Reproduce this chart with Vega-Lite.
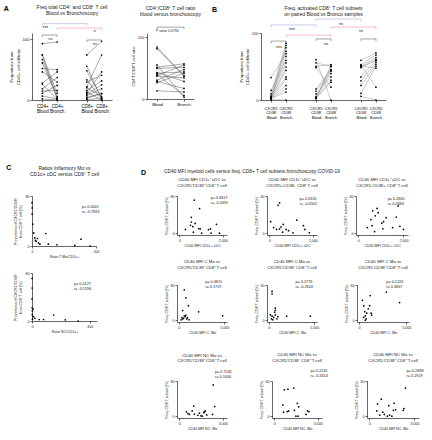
{
"$schema": "https://vega.github.io/schema/vega-lite/v6.json",
"padding": {"left": 3, "top": 5, "right": 0, "bottom": 0},
"background": "white",
"config": {
 "font": "Liberation Sans",
 "view": {"stroke": null},
 "axis": {"grid": false, "domainColor": "#000", "domainWidth": 0.6, "tickColor": "#000", "tickWidth": 0.6, "tickSize": 2, "labelFontSize": 3.6, "titleFontSize": 3.6, "titleFontWeight": "normal", "labelPadding": 1, "titlePadding": 2, "labelColor": "#222", "titleColor": "#222", "labelFlush": false, "labelOverlap": false},
 "title": {"fontSize": 5, "fontWeight": "normal", "color": "#222", "offset": 3, "lineHeight": 6},
 "text": {"color": "#222"}
},
"datasets": {
 "a1": [
  {"id":"4a","g":"CD4+ Blood","v":72},{"id":"4a","g":"CD4+ Bronch.","v":82},
  {"id":"4b","g":"CD4+ Blood","v":4.3},{"id":"4b","g":"CD4+ Bronch.","v":0.1},
  {"id":"4c","g":"CD4+ Blood","v":4.0},{"id":"4c","g":"CD4+ Bronch.","v":0.6},
  {"id":"4d","g":"CD4+ Blood","v":3.6},{"id":"4d","g":"CD4+ Bronch.","v":0.3},
  {"id":"4e","g":"CD4+ Blood","v":3.3},{"id":"4e","g":"CD4+ Bronch.","v":0.2},
  {"id":"4f","g":"CD4+ Blood","v":2.8},{"id":"4f","g":"CD4+ Bronch.","v":2.7},
  {"id":"4g","g":"CD4+ Blood","v":2.5},{"id":"4g","g":"CD4+ Bronch.","v":1.6},
  {"id":"4h","g":"CD4+ Blood","v":1.5},{"id":"4h","g":"CD4+ Bronch.","v":2.5},
  {"id":"4i","g":"CD4+ Blood","v":1.4},{"id":"4i","g":"CD4+ Bronch.","v":0.05},
  {"id":"4j","g":"CD4+ Blood","v":1.0},{"id":"4j","g":"CD4+ Bronch.","v":2.0},
  {"id":"4k","g":"CD4+ Blood","v":0.8},{"id":"4k","g":"CD4+ Bronch.","v":0.85},
  {"id":"4l","g":"CD4+ Blood","v":0.6},{"id":"4l","g":"CD4+ Bronch.","v":1.3},
  {"id":"4m","g":"CD4+ Blood","v":0.35},{"id":"4m","g":"CD4+ Bronch.","v":0.1},
  {"id":"4n","g":"CD4+ Blood","v":0.1},{"id":"4n","g":"CD4+ Bronch.","v":0.0},
  {"id":"8a","g":"CD8+ Blood","v":4.45},{"id":"8a","g":"CD8+ Bronch.","v":86},
  {"id":"8b","g":"CD8+ Blood","v":3.0},{"id":"8b","g":"CD8+ Bronch.","v":0.1},
  {"id":"8c","g":"CD8+ Blood","v":2.6},{"id":"8c","g":"CD8+ Bronch.","v":0.2},
  {"id":"8d","g":"CD8+ Blood","v":1.8},{"id":"8d","g":"CD8+ Bronch.","v":0.05},
  {"id":"8e","g":"CD8+ Blood","v":1.6},{"id":"8e","g":"CD8+ Bronch.","v":2.2},
  {"id":"8f","g":"CD8+ Blood","v":1.2},{"id":"8f","g":"CD8+ Bronch.","v":4.0},
  {"id":"8g","g":"CD8+ Blood","v":1.1},{"id":"8g","g":"CD8+ Bronch.","v":0.33},
  {"id":"8h","g":"CD8+ Blood","v":0.85},{"id":"8h","g":"CD8+ Bronch.","v":1.7},
  {"id":"8i","g":"CD8+ Blood","v":0.7},{"id":"8i","g":"CD8+ Bronch.","v":0.0},
  {"id":"8j","g":"CD8+ Blood","v":0.6},{"id":"8j","g":"CD8+ Bronch.","v":2.5},
  {"id":"8k","g":"CD8+ Blood","v":0.5},{"id":"8k","g":"CD8+ Bronch.","v":1.35},
  {"id":"8l","g":"CD8+ Blood","v":0.4},{"id":"8l","g":"CD8+ Bronch.","v":1.0},
  {"id":"8m","g":"CD8+ Blood","v":0.25},{"id":"8m","g":"CD8+ Bronch.","v":0.55},
  {"id":"8n","g":"CD8+ Blood","v":0.15},{"id":"8n","g":"CD8+ Bronch.","v":0.6},
  {"id":"8o","g":"CD8+ Blood","v":0.05},{"id":"8o","g":"CD8+ Bronch.","v":0.15}
 ],
 "a1br": [
  {"id":"b1","k":"blood","g":"CD4+ Blood","v":180,"o":1},{"id":"b1","k":"blood","g":"CD4+ Blood","v":192,"o":2},{"id":"b1","k":"blood","g":"CD8+ Blood","v":192,"o":3},{"id":"b1","k":"blood","g":"CD8+ Blood","v":180,"o":4},
  {"id":"b2","k":"bronch","g":"CD4+ Bronch.","v":154,"o":1},{"id":"b2","k":"bronch","g":"CD4+ Bronch.","v":166,"o":2},{"id":"b2","k":"bronch","g":"CD8+ Bronch.","v":166,"o":3},{"id":"b2","k":"bronch","g":"CD8+ Bronch.","v":154,"o":4},
  {"id":"b3","k":"ns","g":"CD4+ Blood","v":112,"o":1},{"id":"b3","k":"ns","g":"CD4+ Blood","v":124,"o":2},{"id":"b3","k":"ns","g":"CD4+ Bronch.","v":124,"o":3},{"id":"b3","k":"ns","g":"CD4+ Bronch.","v":112,"o":4},
  {"id":"b4","k":"ns","g":"CD8+ Blood","v":82,"o":1},{"id":"b4","k":"ns","g":"CD8+ Blood","v":94,"o":2},{"id":"b4","k":"ns","g":"CD8+ Bronch.","v":94,"o":3},{"id":"b4","k":"ns","g":"CD8+ Bronch.","v":82,"o":4}
 ],
 "a2": [
  {"id":"a","g":"Blood","v":36},{"id":"a","g":"Bronch.","v":2.0},
  {"id":"b","g":"Blood","v":25},{"id":"b","g":"Bronch.","v":1.95},
  {"id":"c","g":"Blood","v":2.9},{"id":"c","g":"Bronch.","v":0.15},
  {"id":"d","g":"Blood","v":2.7},{"id":"d","g":"Bronch.","v":3.0},
  {"id":"e","g":"Blood","v":2.6},{"id":"e","g":"Bronch.","v":2.7},
  {"id":"f","g":"Blood","v":2.2},{"id":"f","g":"Bronch.","v":2.3},
  {"id":"g","g":"Blood","v":2.1},{"id":"g","g":"Bronch.","v":0.3},
  {"id":"h","g":"Blood","v":2.0},{"id":"h","g":"Bronch.","v":2.9},
  {"id":"i","g":"Blood","v":1.95},{"id":"i","g":"Bronch.","v":1.8},
  {"id":"j","g":"Blood","v":1.5},{"id":"j","g":"Bronch.","v":0.9},
  {"id":"k","g":"Blood","v":1.4},{"id":"k","g":"Bronch.","v":2.2},
  {"id":"l","g":"Blood","v":0.7},{"id":"l","g":"Bronch.","v":0.6},
  {"id":"m","g":"Blood","v":2.25},{"id":"m","g":"Bronch.","v":1.5},
  {"id":"n","g":"Blood","v":1.6},{"id":"n","g":"Bronch.","v":2.5}
 ],
 "a2br": [
  {"id":"b1","k":"ns","g":"Blood","v":151,"o":1},{"id":"b1","k":"ns","g":"Blood","v":164,"o":2},{"id":"b1","k":"ns","g":"Bronch.","v":164,"o":3},{"id":"b1","k":"ns","g":"Bronch.","v":151,"o":4}
 ],
 "b": [
  {"id":"1a","g":"CXCR5⁻|CD38⁺|Blood","v":6.8},{"id":"1a","g":"CXCR5⁻|CD38⁺|Bronch.","v":41},
  {"id":"1b","g":"CXCR5⁻|CD38⁺|Blood","v":2.9},{"id":"1b","g":"CXCR5⁻|CD38⁺|Bronch.","v":22},
  {"id":"1c","g":"CXCR5⁻|CD38⁺|Blood","v":1.85},{"id":"1c","g":"CXCR5⁻|CD38⁺|Bronch.","v":71},
  {"id":"1d","g":"CXCR5⁻|CD38⁺|Blood","v":1.2},{"id":"1d","g":"CXCR5⁻|CD38⁺|Bronch.","v":16.7},
  {"id":"1e","g":"CXCR5⁻|CD38⁺|Blood","v":1.0},{"id":"1e","g":"CXCR5⁻|CD38⁺|Bronch.","v":58},
  {"id":"1f","g":"CXCR5⁻|CD38⁺|Blood","v":0.8},{"id":"1f","g":"CXCR5⁻|CD38⁺|Bronch.","v":9},
  {"id":"1g","g":"CXCR5⁻|CD38⁺|Blood","v":0.6},{"id":"1g","g":"CXCR5⁻|CD38⁺|Bronch.","v":48},
  {"id":"1h","g":"CXCR5⁻|CD38⁺|Blood","v":0.5},{"id":"1h","g":"CXCR5⁻|CD38⁺|Bronch.","v":33},
  {"id":"1i","g":"CXCR5⁻|CD38⁺|Blood","v":0.4},{"id":"1i","g":"CXCR5⁻|CD38⁺|Bronch.","v":65},
  {"id":"1j","g":"CXCR5⁻|CD38⁺|Blood","v":0.3},{"id":"1j","g":"CXCR5⁻|CD38⁺|Bronch.","v":10},
  {"id":"1k","g":"CXCR5⁻|CD38⁺|Blood","v":0.2},{"id":"1k","g":"CXCR5⁻|CD38⁺|Bronch.","v":6.3},
  {"id":"1l","g":"CXCR5⁻|CD38⁺|Blood","v":0.1},{"id":"1l","g":"CXCR5⁻|CD38⁺|Bronch.","v":0},
  {"id":"1m","g":"CXCR5⁻|CD38⁺|Blood","v":0.7},{"id":"1m","g":"CXCR5⁻|CD38⁺|Bronch.","v":4.4},
  {"id":"1n","g":"CXCR5⁻|CD38⁺|Blood","v":0.9},{"id":"1n","g":"CXCR5⁻|CD38⁺|Bronch.","v":7},
  {"id":"1o","g":"CXCR5⁻|CD38⁺|Blood","v":0.3},{"id":"1o","g":"CXCR5⁻|CD38⁺|Bronch.","v":3.4},
  {"id":"1p","g":"CXCR5⁻|CD38⁺|Blood","v":0.5},{"id":"1p","g":"CXCR5⁻|CD38⁺|Bronch.","v":2.4},
  {"id":"2a","g":"CXCR5⁺|CD38⁻|Blood","v":23.7},{"id":"2a","g":"CXCR5⁺|CD38⁻|Bronch.","v":0},
  {"id":"2b","g":"CXCR5⁺|CD38⁻|Blood","v":17},{"id":"2b","g":"CXCR5⁺|CD38⁻|Bronch.","v":11},
  {"id":"2c","g":"CXCR5⁺|CD38⁻|Blood","v":11},{"id":"2c","g":"CXCR5⁺|CD38⁻|Bronch.","v":14},
  {"id":"2d","g":"CXCR5⁺|CD38⁻|Blood","v":9.8},{"id":"2d","g":"CXCR5⁺|CD38⁻|Bronch.","v":3.9},
  {"id":"2e","g":"CXCR5⁺|CD38⁻|Blood","v":3.4},{"id":"2e","g":"CXCR5⁺|CD38⁻|Bronch.","v":9.2},
  {"id":"2f","g":"CXCR5⁺|CD38⁻|Blood","v":2.7},{"id":"2f","g":"CXCR5⁺|CD38⁻|Bronch.","v":8.7},
  {"id":"2g","g":"CXCR5⁺|CD38⁻|Blood","v":1.85},{"id":"2g","g":"CXCR5⁺|CD38⁻|Bronch.","v":7},
  {"id":"2h","g":"CXCR5⁺|CD38⁻|Blood","v":0.8},{"id":"2h","g":"CXCR5⁺|CD38⁻|Bronch.","v":5.4},
  {"id":"2i","g":"CXCR5⁺|CD38⁻|Blood","v":0.5},{"id":"2i","g":"CXCR5⁺|CD38⁻|Bronch.","v":11},
  {"id":"2j","g":"CXCR5⁺|CD38⁻|Blood","v":0.6},{"id":"2j","g":"CXCR5⁺|CD38⁻|Bronch.","v":9},
  {"id":"2k","g":"CXCR5⁺|CD38⁻|Blood","v":1.0},{"id":"2k","g":"CXCR5⁺|CD38⁻|Bronch.","v":8},
  {"id":"2l","g":"CXCR5⁺|CD38⁻|Blood","v":0.7},{"id":"2l","g":"CXCR5⁺|CD38⁻|Bronch.","v":12},
  {"id":"2m","g":"CXCR5⁺|CD38⁻|Blood","v":0.4},{"id":"2m","g":"CXCR5⁺|CD38⁻|Bronch.","v":6},
  {"id":"3a","g":"CXCR5⁺|CD38⁺|Blood","v":22},{"id":"3a","g":"CXCR5⁺|CD38⁺|Bronch.","v":43},
  {"id":"3b","g":"CXCR5⁺|CD38⁺|Blood","v":14},{"id":"3b","g":"CXCR5⁺|CD38⁺|Bronch.","v":37},
  {"id":"3c","g":"CXCR5⁺|CD38⁺|Blood","v":11},{"id":"3c","g":"CXCR5⁺|CD38⁺|Bronch.","v":30},
  {"id":"3d","g":"CXCR5⁺|CD38⁺|Blood","v":9.8},{"id":"3d","g":"CXCR5⁺|CD38⁺|Bronch.","v":25},
  {"id":"3e","g":"CXCR5⁺|CD38⁺|Blood","v":7},{"id":"3e","g":"CXCR5⁺|CD38⁺|Bronch.","v":22},
  {"id":"3f","g":"CXCR5⁺|CD38⁺|Blood","v":5.8},{"id":"3f","g":"CXCR5⁺|CD38⁺|Bronch.","v":17},
  {"id":"3g","g":"CXCR5⁺|CD38⁺|Blood","v":4.4},{"id":"3g","g":"CXCR5⁺|CD38⁺|Bronch.","v":14},
  {"id":"3h","g":"CXCR5⁺|CD38⁺|Blood","v":2},{"id":"3h","g":"CXCR5⁺|CD38⁺|Bronch.","v":11},
  {"id":"3i","g":"CXCR5⁺|CD38⁺|Blood","v":1.1},{"id":"3i","g":"CXCR5⁺|CD38⁺|Bronch.","v":0},
  {"id":"3j","g":"CXCR5⁺|CD38⁺|Blood","v":12},{"id":"3j","g":"CXCR5⁺|CD38⁺|Bronch.","v":9.6},
  {"id":"3k","g":"CXCR5⁺|CD38⁺|Blood","v":10.5},{"id":"3k","g":"CXCR5⁺|CD38⁺|Bronch.","v":20},
  {"id":"3l","g":"CXCR5⁺|CD38⁺|Blood","v":13},{"id":"3l","g":"CXCR5⁺|CD38⁺|Bronch.","v":3.9}
 ],
 "bbr": [
  {"id":"b1","k":"blood","g":"CXCR5⁻|CD38⁺|Blood","v":117,"o":1},{"id":"b1","k":"blood","g":"CXCR5⁻|CD38⁺|Blood","v":123,"o":2},{"id":"b1","k":"blood","g":"CXCR5⁺|CD38⁻|Blood","v":123,"o":3},{"id":"b1","k":"blood","g":"CXCR5⁺|CD38⁻|Blood","v":117,"o":4},
  {"id":"b2","k":"blood","g":"CXCR5⁺|CD38⁻|Blood","v":134,"o":1},{"id":"b2","k":"blood","g":"CXCR5⁺|CD38⁻|Blood","v":140,"o":2},{"id":"b2","k":"blood","g":"CXCR5⁺|CD38⁺|Blood","v":140,"o":3},{"id":"b2","k":"blood","g":"CXCR5⁺|CD38⁺|Blood","v":134,"o":4},
  {"id":"b3","k":"bronch","g":"CXCR5⁻|CD38⁺|Bronch.","v":88,"o":1},{"id":"b3","k":"bronch","g":"CXCR5⁻|CD38⁺|Bronch.","v":94,"o":2},{"id":"b3","k":"bronch","g":"CXCR5⁺|CD38⁻|Bronch.","v":94,"o":3},{"id":"b3","k":"bronch","g":"CXCR5⁺|CD38⁻|Bronch.","v":88,"o":4},
  {"id":"b4","k":"bronch","g":"CXCR5⁺|CD38⁻|Bronch.","v":111,"o":1},{"id":"b4","k":"bronch","g":"CXCR5⁺|CD38⁻|Bronch.","v":117,"o":2},{"id":"b4","k":"bronch","g":"CXCR5⁺|CD38⁺|Bronch.","v":117,"o":3},{"id":"b4","k":"bronch","g":"CXCR5⁺|CD38⁺|Bronch.","v":111,"o":4},
  {"id":"b5","k":"ns","g":"CXCR5⁻|CD38⁺|Blood","v":71,"o":1},{"id":"b5","k":"ns","g":"CXCR5⁻|CD38⁺|Blood","v":77,"o":2},{"id":"b5","k":"ns","g":"CXCR5⁻|CD38⁺|Bronch.","v":77,"o":3},{"id":"b5","k":"ns","g":"CXCR5⁻|CD38⁺|Bronch.","v":71,"o":4},
  {"id":"b6","k":"ns","g":"CXCR5⁺|CD38⁻|Blood","v":77,"o":1},{"id":"b6","k":"ns","g":"CXCR5⁺|CD38⁻|Blood","v":83,"o":2},{"id":"b6","k":"ns","g":"CXCR5⁺|CD38⁻|Bronch.","v":83,"o":3},{"id":"b6","k":"ns","g":"CXCR5⁺|CD38⁻|Bronch.","v":77,"o":4},
  {"id":"b7","k":"ns","g":"CXCR5⁺|CD38⁺|Blood","v":77,"o":1},{"id":"b7","k":"ns","g":"CXCR5⁺|CD38⁺|Blood","v":83,"o":2},{"id":"b7","k":"ns","g":"CXCR5⁺|CD38⁺|Bronch.","v":83,"o":3},{"id":"b7","k":"ns","g":"CXCR5⁺|CD38⁺|Bronch.","v":77,"o":4}
 ],
 "c1": [{"x":0,"y":69},{"x":0.5,"y":61},{"x":0.3,"y":51},{"x":1.5,"y":35},{"x":3.5,"y":21},{"x":5.5,"y":13},{"x":7,"y":9},{"x":8.5,"y":7.5},{"x":11,"y":12},{"x":13,"y":5},{"x":16,"y":3},{"x":28,"y":20},{"x":33,"y":3},{"x":52,"y":2},{"x":245,"y":1},{"x":320,"y":11},{"x":430,"y":0}],
 "c2": [{"x":1,"y":71},{"x":1,"y":55},{"x":0,"y":37},{"x":1,"y":22},{"x":2,"y":17},{"x":8,"y":20},{"x":2,"y":11},{"x":5,"y":8},{"x":12,"y":7},{"x":20,"y":4.5},{"x":3,"y":3},{"x":50,"y":2.5},{"x":80,"y":2.5},{"x":150,"y":10},{"x":230,"y":2},{"x":320,"y":0}],
 "d11": [{"x":286,"y":8},{"x":518,"y":17},{"x":558,"y":34},{"x":558,"y":24},{"x":626,"y":14},{"x":653,"y":2},{"x":694,"y":71},{"x":735,"y":21},{"x":898,"y":10},{"x":939,"y":53},{"x":966,"y":9},{"x":1034,"y":0},{"x":1347,"y":7.5},{"x":1442,"y":9},{"x":1469,"y":0},{"x":1714,"y":19},{"x":1850,"y":0}],
 "d12": [{"x":68,"y":18.5},{"x":411,"y":45},{"x":480,"y":49},{"x":205,"y":9},{"x":342,"y":6},{"x":480,"y":7},{"x":548,"y":10},{"x":616,"y":1.5},{"x":644,"y":14},{"x":781,"y":6},{"x":890,"y":4},{"x":1096,"y":0.5},{"x":1274,"y":21},{"x":1575,"y":12},{"x":1644,"y":6},{"x":1849,"y":0.5}],
 "d13": [{"x":400,"y":9},{"x":560,"y":22},{"x":608,"y":12},{"x":640,"y":36},{"x":720,"y":2.5},{"x":752,"y":28},{"x":832,"y":40},{"x":880,"y":33},{"x":1040,"y":16},{"x":1088,"y":7},{"x":1120,"y":18.5},{"x":1232,"y":25},{"x":1520,"y":9},{"x":1680,"y":26},{"x":1760,"y":44},{"x":1840,"y":11},{"x":2000,"y":6}],
 "d21": [{"x":423,"y":22},{"x":599,"y":69},{"x":775,"y":51},{"x":1056,"y":33},{"x":599,"y":10},{"x":704,"y":8},{"x":528,"y":4.5},{"x":423,"y":3},{"x":352,"y":6},{"x":775,"y":11.5},{"x":880,"y":3},{"x":951,"y":6},{"x":2183,"y":19},{"x":4824,"y":10},{"x":246,"y":1},{"x":1127,"y":1}],
 "d22": [{"x":357,"y":49},{"x":357,"y":45},{"x":357,"y":7},{"x":179,"y":9},{"x":536,"y":5},{"x":286,"y":2.5},{"x":714,"y":20.5},{"x":714,"y":17},{"x":643,"y":13.7},{"x":714,"y":9},{"x":893,"y":2.5},{"x":1000,"y":6},{"x":1964,"y":7},{"x":4571,"y":7},{"x":429,"y":1}],
 "d23": [{"x":370,"y":34},{"x":525,"y":24.4},{"x":617,"y":14.6},{"x":679,"y":7.3},{"x":772,"y":2.4},{"x":833,"y":12},{"x":988,"y":19.5},{"x":1142,"y":25},{"x":1296,"y":12},{"x":1358,"y":8.8},{"x":1200,"y":42},{"x":2900,"y":48},{"x":4300,"y":30},{"x":679,"y":0},{"x":494,"y":5}],
 "d31": [{"x":500,"y":10},{"x":600,"y":6},{"x":700,"y":4},{"x":900,"y":12},{"x":1000,"y":23},{"x":1050,"y":5},{"x":1300,"y":2},{"x":1400,"y":7},{"x":1500,"y":1},{"x":1600,"y":0},{"x":1700,"y":8},{"x":1750,"y":10},{"x":1800,"y":12},{"x":1900,"y":3},{"x":2300,"y":4},{"x":2350,"y":71},{"x":2450,"y":22}],
 "d32": [{"x":600,"y":19},{"x":650,"y":7},{"x":700,"y":45},{"x":900,"y":8},{"x":950,"y":46},{"x":1000,"y":9},{"x":1350,"y":48},{"x":1400,"y":10},{"x":1500,"y":0},{"x":1600,"y":22},{"x":1650,"y":0},{"x":1700,"y":16},{"x":2200,"y":3},{"x":2300,"y":9},{"x":2400,"y":8}],
 "d33": [{"x":500,"y":9},{"x":550,"y":21},{"x":700,"y":2},{"x":800,"y":29},{"x":900,"y":7},{"x":1000,"y":3},{"x":1200,"y":0},{"x":1300,"y":18},{"x":1350,"y":2},{"x":1500,"y":0},{"x":1600,"y":10},{"x":1650,"y":22},{"x":1750,"y":11},{"x":2250,"y":10},{"x":2300,"y":13},{"x":2400,"y":48}]
},
"vconcat": [
 {"hconcat": [
  {"title": {"text": "A", "orient": "left", "anchor": "end", "angle": 0, "fontSize": 7, "fontWeight": "bold", "color": "#000", "offset": -4, "baseline": "top"},
   "hconcat": [
    {"title": {"text": ["Freq total CD4⁺ and CD8⁺ T cell", "Blood vs Bronchoscopy"], "frame": "group", "offset": 6},
     "width": 80, "height": 67,
     "layer": [
      {"data": {"name": "a1"}, "mark": {"type": "line", "color": "#555", "strokeWidth": 0.5},
       "encoding": {
        "x": {"field": "g", "type": "ordinal", "scale": {"type": "point", "domain": ["CD4+ Blood","CD4+ Bronch."," ","CD8+ Blood","CD8+ Bronch."], "padding": 0.7},
              "axis": {"title": null, "values": ["CD4+ Blood","CD4+ Bronch.","CD8+ Blood","CD8+ Bronch."], "labelExpr": "split(datum.label, ' ')", "labelFontSize": 4.5, "labelLineHeight": 5.5, "labelAngle": 0, "labelColor": "#000"}},
        "y": {"field": "v", "type": "quantitative", "scale": {"domain": [0,4,100,136], "range": [67,22,6,0], "nice": false, "zero": false},
              "axis": {"values": [0,1,2,3,4,50,100], "title": ["Proportions from", "CD45+ cell infiltrate"], "labelFontSize": 4.2, "titleFontSize": 4.2}},
        "detail": {"field": "id"}}},
      {"data": {"name": "a1"}, "mark": {"type": "circle", "size": 3, "color": "#000", "opacity": 1},
       "encoding": {"x": {"field": "g", "type": "ordinal"}, "y": {"field": "v", "type": "quantitative"}}},
      {"data": {"name": "a1br"}, "mark": {"type": "line", "strokeWidth": 0.6},
       "encoding": {"x": {"field": "g", "type": "ordinal"}, "y": {"field": "v", "type": "quantitative"}, "detail": {"field": "id"}, "order": {"field": "o"},
        "color": {"field": "k", "type": "nominal", "scale": {"domain": ["blood","bronch","ns"], "range": ["#9fa8da","#f48fb1","#666"]}, "legend": null}}},
      {"data": {"values": [{}]}, "mark": {"type": "text", "fontSize": 5, "dx": 3, "baseline": "middle"}, "encoding": {"x": {"datum": "CD4+ Blood"}, "y": {"datum": 166}, "text": {"value": "***"}}},
      {"data": {"values": [{}]}, "mark": {"type": "text", "fontSize": 5, "dx": -7, "baseline": "middle"}, "encoding": {"x": {"datum": "CD8+ Bronch."}, "y": {"datum": 144}, "text": {"value": "*"}}},
      {"data": {"values": [{}]}, "mark": {"type": "text", "fontSize": 4, "dx": 8, "baseline": "middle"}, "encoding": {"x": {"datum": "CD4+ Blood"}, "y": {"datum": 102}, "text": {"value": "ns"}}},
      {"data": {"values": [{}]}, "mark": {"type": "text", "fontSize": 4, "dx": 8, "baseline": "middle"}, "encoding": {"x": {"datum": "CD8+ Blood"}, "y": {"datum": 72}, "text": {"value": "ns"}}}
     ]},
    {"title": {"text": ["CD4⁺/CD8⁺ T cell ratio", "blood versus bronchoscopy"], "frame": "group", "offset": 9},
     "width": 47, "height": 66,
     "layer": [
      {"data": {"name": "a2"}, "mark": {"type": "line", "color": "#555", "strokeWidth": 0.5},
       "encoding": {
        "x": {"field": "g", "type": "ordinal", "scale": {"type": "point", "domain": ["Blood","Bronch."], "padding": 0.37},
              "axis": {"title": null, "labelFontSize": 4.2, "labelAngle": 0, "labelColor": "#000"}},
        "y": {"field": "v", "type": "quantitative", "scale": {"domain": [0,4,100,126], "range": [66,19,4,0], "nice": false, "zero": false},
              "axis": {"values": [0,1,2,3,4,50,100], "title": "CD4⁺T/CD8⁺T cell ratio", "labelFontSize": 4, "titleFontSize": 4}},
        "detail": {"field": "id"}}},
      {"data": {"name": "a2"}, "mark": {"type": "circle", "size": 3, "color": "#000", "opacity": 1},
       "encoding": {"x": {"field": "g", "type": "ordinal"}, "y": {"field": "v", "type": "quantitative"}}},
      {"data": {"name": "a2br"}, "mark": {"type": "line", "strokeWidth": 0.6, "color": "#666"},
       "encoding": {"x": {"field": "g", "type": "ordinal"}, "y": {"field": "v", "type": "quantitative"}, "detail": {"field": "id"}, "order": {"field": "o"}}},
      {"data": {"values": [{}]}, "mark": {"type": "text", "fontSize": 3.4, "align": "left", "dx": -1, "baseline": "middle"}, "encoding": {"x": {"datum": "Blood"}, "y": {"datum": 140}, "text": {"value": "P value     0.0730"}}}
     ]}
   ], "spacing": 19},
  {"title": {"text": "B", "orient": "left", "anchor": "end", "angle": 0, "fontSize": 7, "fontWeight": "bold", "color": "#000", "offset": 17, "baseline": "top"},
   "hconcat": [
    {"title": {"text": ["Freq. activated CD8⁺ T cell subsets", "on paired Blood vs Bronco samples"], "frame": "group", "offset": 1},
     "width": 125, "height": 67,
     "layer": [
      {"data": {"name": "b"}, "mark": {"type": "line", "color": "#999", "strokeWidth": 0.5},
       "encoding": {
        "x": {"field": "g", "type": "ordinal", "scale": {"type": "point", "domain": ["CXCR5⁻|CD38⁺|Blood","CXCR5⁻|CD38⁺|Bronch."," ","CXCR5⁺|CD38⁻|Blood","CXCR5⁺|CD38⁻|Bronch.","  ","CXCR5⁺|CD38⁺|Blood","CXCR5⁺|CD38⁺|Bronch."], "padding": 0.67},
              "axis": {"title": null, "values": ["CXCR5⁻|CD38⁺|Blood","CXCR5⁻|CD38⁺|Bronch.","CXCR5⁺|CD38⁻|Blood","CXCR5⁺|CD38⁻|Bronch.","CXCR5⁺|CD38⁺|Blood","CXCR5⁺|CD38⁺|Bronch."], "labelExpr": "split(datum.label, '|')", "labelFontSize": 3.8, "labelLineHeight": 4.6, "labelAngle": 0, "labelPadding": 4, "labelColor": "#000"}},
        "y": {"field": "v", "type": "quantitative", "scale": {"domain": [0,10,20,100], "range": [67,34,28,0], "nice": false, "zero": false},
              "axis": {"values": [0,2,4,6,8,10,20,40,60,80,100], "title": ["Proportions from", "CD45+ cell infiltrate"], "labelFontSize": 4, "titleFontSize": 4.2}},
        "detail": {"field": "id"}}},
      {"data": {"name": "b"}, "mark": {"type": "circle", "size": 3, "color": "#000", "opacity": 1},
       "encoding": {"x": {"field": "g", "type": "ordinal"}, "y": {"field": "v", "type": "quantitative"}}},
      {"data": {"name": "bbr"}, "mark": {"type": "line", "strokeWidth": 0.6},
       "encoding": {"x": {"field": "g", "type": "ordinal"}, "y": {"field": "v", "type": "quantitative"}, "detail": {"field": "id"}, "order": {"field": "o"},
        "color": {"field": "k", "type": "nominal", "scale": {"domain": ["blood","bronch","ns"], "range": ["#9fa8da","#f48fb1","#666"]}, "legend": null}}},
      {"data": {"values": [{}]}, "mark": {"type": "text", "fontSize": 5, "dx": 6, "baseline": "middle"}, "encoding": {"x": {"datum": "CXCR5⁻|CD38⁺|Bronch."}, "y": {"datum": 108}, "text": {"value": "***"}}},
      {"data": {"values": [{}]}, "mark": {"type": "text", "fontSize": 4, "dx": 10, "baseline": "middle"}, "encoding": {"x": {"datum": "CXCR5⁺|CD38⁻|Bronch."}, "y": {"datum": 126}, "text": {"value": "ns"}}},
      {"data": {"values": [{}]}, "mark": {"type": "text", "fontSize": 5, "baseline": "middle"}, "encoding": {"x": {"datum": "CXCR5⁺|CD38⁺|Blood"}, "y": {"datum": 102}, "text": {"value": "**"}}},
      {"data": {"values": [{}]}, "mark": {"type": "text", "fontSize": 5, "dx": 8, "baseline": "middle"}, "encoding": {"x": {"datum": "CXCR5⁻|CD38⁺|Blood"}, "y": {"datum": 58}, "text": {"value": "***"}}},
      {"data": {"values": [{}]}, "mark": {"type": "text", "fontSize": 4, "dx": 10, "baseline": "middle"}, "encoding": {"x": {"datum": "CXCR5⁺|CD38⁻|Blood"}, "y": {"datum": 68}, "text": {"value": "ns"}}}
     ]}
   ]}
 ], "spacing": 11},
 {"hconcat": [
  {"title": {"text": "C", "orient": "left", "anchor": "end", "angle": 0, "fontSize": 7, "fontWeight": "bold", "color": "#000", "offset": -3, "baseline": "top", "dy": -2},
   "vconcat": [
    {"title": {"text": ["Ratios Inflamtory Mo vs", "CD1c+ cDC versus CD8⁺ T cell"], "frame": "group", "offset": 17},
     "width": 65, "height": 50,
     "layer": [
      {"data": {"name": "c1"}, "mark": {"type": "circle", "size": 3, "color": "#000", "opacity": 1},
       "encoding": {
        "x": {"field": "x", "type": "quantitative", "scale": {"domain": [0,50,200,500], "range": [0,24.7,39,64], "nice": false, "zero": false}, "axis": {"values": [0,10,20,30,40,50,100,150,200,300,400,500], "title": "Ratio T Mo/CD1c+", "labelFontSize": 3.3}},
        "y": {"field": "y", "type": "quantitative", "scale": {"domain": [0,80], "nice": false}, "axis": {"values": [0,20,40,60,80], "title": ["Proportions of CXCR5⁺CD38⁺", "from CD8⁺ T cell (%)"]}}}},
      {"data": {"values": [{}]}, "mark": {"type": "text", "align": "left", "baseline": "top", "fontSize": 3.8, "lineHeight": 5}, "encoding": {"x": {"datum": 330}, "y": {"datum": 65}, "text": {"value": ["p=  0.0001", "r= -0.7833"]}}}
     ]},
    {"width": 65, "height": 48,
     "layer": [
      {"data": {"name": "c2"}, "mark": {"type": "circle", "size": 3, "color": "#000", "opacity": 1},
       "encoding": {
        "x": {"field": "x", "type": "quantitative", "scale": {"domain": [0,450], "nice": false, "zero": false}, "axis": {"values": [0,100,200,300,400], "title": "Ratio NC/CD1c+"}},
        "y": {"field": "y", "type": "quantitative", "scale": {"domain": [0,80], "nice": false}, "axis": {"values": [0,20,40,60,80], "title": ["Proportions of CXCR5⁺CD38⁺", "from CD8⁺ T cell (%)"]}}}},
      {"data": {"values": [{}]}, "mark": {"type": "text", "align": "left", "baseline": "top", "fontSize": 3.8, "lineHeight": 5}, "encoding": {"x": {"datum": 290}, "y": {"datum": 65}, "text": {"value": ["p=  0.0127", "r= -0.5596"]}}}
     ]}
   ], "spacing": 13},
  {"title": {"text": "D", "orient": "left", "anchor": "end", "angle": 0, "fontSize": 7, "fontWeight": "bold", "color": "#000", "offset": 13, "baseline": "top"},
   "vconcat": [
    {"title": {"text": "CD40 MFI myeloid cells versus freq. CD8+ T cell subsets bronchoscopy COVID-19", "fontSize": 4.8, "offset": 4},
     "vconcat": [
      {"vconcat": [
      {"hconcat": [
        {"title": {"text": ["CD40 MFI CD1c⁺ cDC vs", "CXCR5⁺CD38⁺ CD8⁺ T cell"], "fontSize": 4.3, "lineHeight": 5.5, "frame": "group", "offset": 6}, "width": 50, "height": 39,
         "layer": [
          {"data": {"name": "d11"}, "mark": {"type": "circle", "size": 3, "color": "#000", "opacity": 1},
           "encoding": {"x": {"field": "x", "type": "quantitative", "scale": {"domain": [-100,2200], "nice": false, "zero": false}, "axis": {"values": [0,500,1000,1500,2000], "title": "CD40 MFI CD1c+ cDC"}},
                        "y": {"field": "y", "type": "quantitative", "scale": {"domain": [-4,80], "nice": false, "zero": false}, "axis": {"values": [0,20,40,60,80], "title": "Freq. CD8 T subset (%)"}}}},
          {"data": {"values": [{}]}, "mark": {"type": "text", "align": "left", "baseline": "top", "fontSize": 3.8, "lineHeight": 5}, "encoding": {"x": {"datum": 1450}, "y": {"datum": 79}, "text": {"value": ["p=  0.8417", "r= -0.0491"]}}}
         ]},
        {"title": {"text": ["CD40 MFI CD1c⁺ cDC vs", "CXCR5+CD38- CD8⁺ T cell"], "fontSize": 4.3, "lineHeight": 5.5, "frame": "group", "offset": 6}, "width": 50, "height": 39,
         "layer": [
          {"data": {"name": "d12"}, "mark": {"type": "circle", "size": 3, "color": "#000", "opacity": 1},
           "encoding": {"x": {"field": "x", "type": "quantitative", "scale": {"domain": [-100,2200], "nice": false, "zero": false}, "axis": {"values": [0,500,1000,1500,2000], "title": "CD40 MFI CD1c+ cDC"}},
                        "y": {"field": "y", "type": "quantitative", "scale": {"domain": [-3,60], "nice": false, "zero": false}, "axis": {"values": [0,20,40,60], "title": "Freq. CD8 T subset (%)"}}}},
          {"data": {"values": [{}]}, "mark": {"type": "text", "align": "left", "baseline": "top", "fontSize": 3.8, "lineHeight": 5}, "encoding": {"x": {"datum": 1400}, "y": {"datum": 59}, "text": {"value": ["p=  0.0531", "r= -0.4502"]}}}
         ]},
        {"title": {"text": ["CD40 MFI CD1c⁺ cDC vs", "CXCR5-CD38+ CD8⁺ T cell"], "fontSize": 4.3, "lineHeight": 5.5, "frame": "group", "offset": 6}, "width": 52, "height": 39,
         "layer": [
          {"data": {"name": "d13"}, "mark": {"type": "circle", "size": 3, "color": "#000", "opacity": 1},
           "encoding": {"x": {"field": "x", "type": "quantitative", "scale": {"domain": [-100,2200], "nice": false, "zero": false}, "axis": {"values": [0,500,1000,1500,2000], "title": "CD40 MFI CD1c+ cDC"}},
                        "y": {"field": "y", "type": "quantitative", "scale": {"domain": [-3,60], "nice": false, "zero": false}, "axis": {"values": [0,20,40,60], "title": "Freq. CD8 T subset (%)"}}}},
          {"data": {"values": [{}]}, "mark": {"type": "text", "align": "left", "baseline": "top", "fontSize": 3.8, "lineHeight": 5}, "encoding": {"x": {"datum": 1300}, "y": {"datum": 59}, "text": {"value": ["p=  0.2665", "r= 0.2684"]}}}
         ]}
       ], "spacing": 25},
      {"hconcat": [
        {"title": {"text": ["CD40 MFI C Mo vs", "CXCR5⁺CD38⁺ CD8⁺ T cell"], "fontSize": 4.3, "lineHeight": 5.5, "frame": "group", "offset": 10}, "width": 50, "height": 37,
         "layer": [
          {"data": {"name": "d21"}, "mark": {"type": "circle", "size": 3, "color": "#000", "opacity": 1},
           "encoding": {"x": {"field": "x", "type": "quantitative", "scale": {"domain": [-200,5300], "nice": false, "zero": false}, "axis": {"values": [0,1000,2000,3000,4000,5000], "title": "CD40 MFI C. Mo"}},
                        "y": {"field": "y", "type": "quantitative", "scale": {"domain": [-4,80], "nice": false, "zero": false}, "axis": {"values": [0,20,40,60,80], "title": "Freq. CD8 T subset (%)"}}}},
          {"data": {"values": [{}]}, "mark": {"type": "text", "align": "left", "baseline": "top", "fontSize": 3.8, "lineHeight": 5}, "encoding": {"x": {"datum": 2900}, "y": {"datum": 91}, "text": {"value": ["p=  0.4815", "r= 0.1719"]}}}
         ]},
        {"title": {"text": ["CD40 MFI C Mo  vs", "CXCR5⁺CD38⁻ CD8⁺ T cell"], "fontSize": 4.3, "lineHeight": 5.5, "frame": "group", "offset": 10}, "width": 50, "height": 37,
         "layer": [
          {"data": {"name": "d22"}, "mark": {"type": "circle", "size": 3, "color": "#000", "opacity": 1},
           "encoding": {"x": {"field": "x", "type": "quantitative", "scale": {"domain": [-200,5300], "nice": false, "zero": false}, "axis": {"values": [0,1000,2000,3000,4000,5000], "title": "CD40 MFI C. Mo"}},
                        "y": {"field": "y", "type": "quantitative", "scale": {"domain": [-3,60], "nice": false, "zero": false}, "axis": {"values": [0,20,40,60], "title": "Freq. CD8 T subset (%)"}}}},
          {"data": {"values": [{}]}, "mark": {"type": "text", "align": "left", "baseline": "top", "fontSize": 3.8, "lineHeight": 5}, "encoding": {"x": {"datum": 2930}, "y": {"datum": 68.5}, "text": {"value": ["p=  0.2776", "r= -0.2624"]}}}
         ]},
        {"title": {"text": ["CD40 MFI C Mo  vs", "CXCR5⁻CD38⁺ CD8⁺ T cell"], "fontSize": 4.3, "lineHeight": 5.5, "frame": "group", "offset": 10}, "width": 52, "height": 37,
         "layer": [
          {"data": {"name": "d23"}, "mark": {"type": "circle", "size": 3, "color": "#000", "opacity": 1},
           "encoding": {"x": {"field": "x", "type": "quantitative", "scale": {"domain": [-200,5300], "nice": false, "zero": false}, "axis": {"values": [0,1000,2000,3000,4000,5000], "title": "CD40 MFI C. Mo"}},
                        "y": {"field": "y", "type": "quantitative", "scale": {"domain": [-3,60], "nice": false, "zero": false}, "axis": {"values": [0,20,40,60], "title": "Freq. CD8 T subset (%)"}}}},
          {"data": {"values": [{}]}, "mark": {"type": "text", "align": "left", "baseline": "top", "fontSize": 3.8, "lineHeight": 5}, "encoding": {"x": {"datum": 2900}, "y": {"datum": 68.5}, "text": {"value": ["p=  0.1226", "r= 0.3667"]}}}
         ]}
       ], "spacing": 25}
      ], "spacing": 12},
      {"hconcat": [
        {"title": {"text": ["CD40 MFI NC Mo vs", "CXCR5⁺CD38⁺ CD8⁺ T cell"], "fontSize": 4.3, "lineHeight": 5.5, "frame": "group", "offset": 6}, "width": 50, "height": 37,
         "layer": [
          {"data": {"name": "d31"}, "mark": {"type": "circle", "size": 3, "color": "#000", "opacity": 1},
           "encoding": {"x": {"field": "x", "type": "quantitative", "scale": {"domain": [-150,3300], "nice": false, "zero": false}, "axis": {"values": [0,1000,2000,3000], "title": "CD40 MFI NC. Mo"}},
                        "y": {"field": "y", "type": "quantitative", "scale": {"domain": [-4,80], "nice": false, "zero": false}, "axis": {"values": [0,20,40,60,80], "title": "Freq. CD8 T subset (%)"}}}},
          {"data": {"values": [{}]}, "mark": {"type": "text", "align": "left", "baseline": "top", "fontSize": 3.8, "lineHeight": 5}, "encoding": {"x": {"datum": 2470}, "y": {"datum": 106}, "text": {"value": ["p=  0.7241", "r= 0.1000"]}}}
         ]},
        {"title": {"text": ["CD40 MFI NC Mo  vs", "CXCR5⁺CD38⁻ CD8⁺ T cell"], "fontSize": 4.3, "lineHeight": 5.5, "frame": "group", "offset": 6}, "width": 50, "height": 37,
         "layer": [
          {"data": {"name": "d32"}, "mark": {"type": "circle", "size": 3, "color": "#000", "opacity": 1},
           "encoding": {"x": {"field": "x", "type": "quantitative", "scale": {"domain": [-150,3300], "nice": false, "zero": false}, "axis": {"values": [0,1000,2000,3000], "title": "CD40 MFI NC. Mo"}},
                        "y": {"field": "y", "type": "quantitative", "scale": {"domain": [-3,60], "nice": false, "zero": false}, "axis": {"values": [0,20,40,60], "title": "Freq. CD8 T subset (%)"}}}},
          {"data": {"values": [{}]}, "mark": {"type": "text", "align": "left", "baseline": "top", "fontSize": 3.8, "lineHeight": 5}, "encoding": {"x": {"datum": 2500}, "y": {"datum": 80}, "text": {"value": ["p=  0.2245", "r= -0.3324"]}}}
         ]},
        {"title": {"text": ["CD40 MFI NC Mo  vs", "CXCR5⁻CD38⁺ CD8⁺ T cell"], "fontSize": 4.3, "lineHeight": 5.5, "frame": "group", "offset": 6}, "width": 52, "height": 37,
         "layer": [
          {"data": {"name": "d33"}, "mark": {"type": "circle", "size": 3, "color": "#000", "opacity": 1},
           "encoding": {"x": {"field": "x", "type": "quantitative", "scale": {"domain": [-150,3300], "nice": false, "zero": false}, "axis": {"values": [0,1000,2000,3000], "title": "CD40 MFI NC. Mo"}},
                        "y": {"field": "y", "type": "quantitative", "scale": {"domain": [-3,60], "nice": false, "zero": false}, "axis": {"values": [0,20,40,60], "title": "Freq. CD8 T subset (%)"}}}},
          {"data": {"values": [{}]}, "mark": {"type": "text", "align": "left", "baseline": "top", "fontSize": 3.8, "lineHeight": 5}, "encoding": {"x": {"datum": 2470}, "y": {"datum": 80}, "text": {"value": ["p=  0.2688", "r= 0.2929"]}}}
         ]}
       ], "spacing": 25}
     ], "spacing": 18}
   ]}
 ], "spacing": 40}
],
"spacing": 45
}
